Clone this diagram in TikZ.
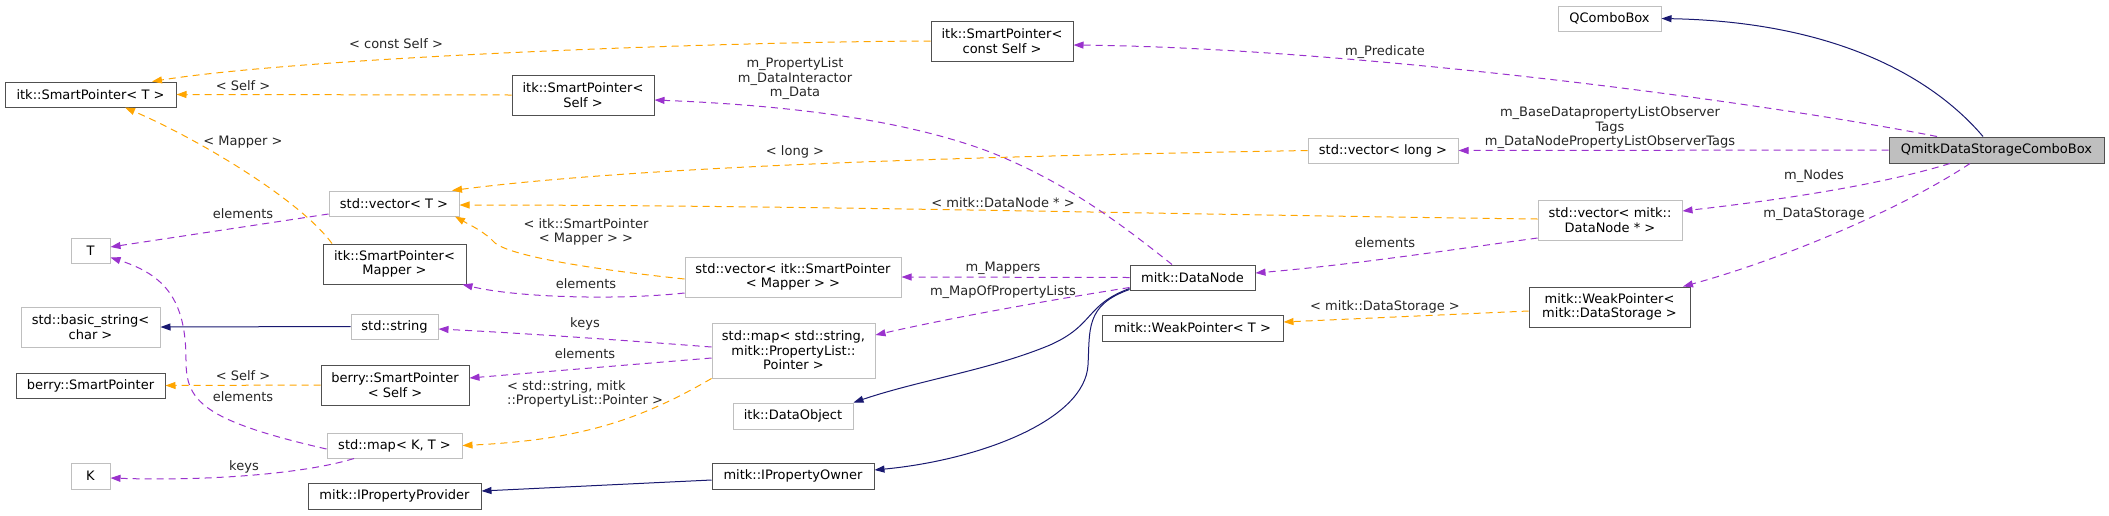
\documentclass[tikz,border=0pt]{standalone}
\usepackage{fontspec}
\setmainfont{DejaVu Sans}
\usetikzlibrary{arrows.meta}
\definecolor{navyc}{HTML}{191970}
\definecolor{purp}{HTML}{9A32CD}
\definecolor{oran}{HTML}{FFA500}
\definecolor{gline}{HTML}{BFBFBF}
\definecolor{bline}{HTML}{505050}
\begin{document}
\begin{tikzpicture}[x=1pt,y=-1pt,
  every node/.style={font=\fontsize{13}{14.5}\selectfont},
  box/.style={rectangle, inner sep=0pt, align=center, line width=1pt},
  gbox/.style={box, draw=gline},
  bbox/.style={box, draw=bline},
  lbl/.style={inner sep=0pt, align=center, text=black!85},
  tipa/.style={-{Triangle[length=10pt,width=7pt]}},
  inh/.style={tipa, color=navyc, line width=1pt},
  mem/.style={tipa, color=purp, line width=1pt, dash pattern=on 7pt off 5pt},
  tpl/.style={tipa, color=oran, line width=1pt, dash pattern=on 7pt off 5pt}]
\useasboundingbox (0,0) rectangle (2109,515);

% nodes
\node[gbox, minimum width=103, minimum height=25] (qcb) at (1609.5,18.5) {QComboBox};
\node[bbox, minimum width=142, minimum height=40] (spcs) at (1002,41) {itk::SmartPointer<\\const Self >};
\node[bbox, minimum width=171, minimum height=25] (spt) at (90.5,94.5) {itk::SmartPointer< T >};
\node[bbox, minimum width=142, minimum height=40] (spself) at (583,95) {itk::SmartPointer<\\Self >};
\node[gbox, minimum width=150, minimum height=25] (veclong) at (1383,150.5) {std::vector< long >};
\node[box, draw=bline, fill=gline, minimum width=215, minimum height=26] (qmitk) at (1996.5,150) {QmitkDataStorageComboBox};
\node[gbox, minimum width=130, minimum height=25] (vect) at (394,203.5) {std::vector< T >};
\node[gbox, minimum width=144, minimum height=40] (vecdn) at (1610,220) {std::vector< mitk::\\DataNode * >};
\node[gbox, minimum width=39, minimum height=25] (tt) at (90.5,250.5) {T};
\node[bbox, minimum width=143, minimum height=40] (spmap) at (394.5,264) {itk::SmartPointer<\\Mapper >};
\node[gbox, minimum width=216, minimum height=40] (vecspm) at (793,277) {std::vector< itk::SmartPointer\\< Mapper > >};
\node[bbox, minimum width=125, minimum height=25] (dnode) at (1192.5,277.5) {mitk::DataNode};
\node[gbox, minimum width=139, minimum height=40] (bstr) at (90.5,327) {std::basic\_string<\\char >};
\node[gbox, minimum width=87, minimum height=25] (sstr) at (394.5,326.5) {std::string};
\node[gbox, minimum width=163, minimum height=55] (mapstr) at (793.5,350.5) {std::map< std::string,\\mitk::PropertyList::\\Pointer >};
\node[bbox, minimum width=181, minimum height=26] (wpt) at (1192.5,328) {mitk::WeakPointer< T >};
\node[bbox, minimum width=161, minimum height=40] (wpds) at (1609.5,307) {mitk::WeakPointer<\\mitk::DataStorage >};
\node[bbox, minimum width=149, minimum height=25] (bsp) at (90.5,385.5) {berry::SmartPointer};
\node[bbox, minimum width=148, minimum height=40] (bsps) at (395,385) {berry::SmartPointer\\< Self >};
\node[gbox, minimum width=120, minimum height=26] (dobj) at (793,416) {itk::DataObject};
\node[gbox, minimum width=135, minimum height=25] (mapkt) at (394.5,445.5) {std::map< K, T >};
\node[gbox, minimum width=39, minimum height=26] (kk) at (90.5,476) {K};
\node[bbox, minimum width=162, minimum height=26] (ipo) at (793,476) {mitk::IPropertyOwner};
\node[bbox, minimum width=173, minimum height=26] (ipp) at (394.5,496) {mitk::IPropertyProvider};

% edges
\draw[inh] ([xshift=-13.5]qmitk.north) .. controls (1935,80) and (1840,22) .. (qcb.east);
\draw[mem] ([xshift=-59.5]qmitk.north) .. controls (1750,100) and (1350,48) .. ([yshift=-4]spcs.east);
\draw[tpl] (spcs.west) .. controls (700,42) and (300,58) .. ([xshift=61.5]spt.north);
\draw[tpl] (spself.west) -- (spt.east);
\draw[tpl] ([xshift=-62.5]spmap.north) .. controls (300,200) and (200,140) .. ([xshift=34.5]spt.south);
\draw[mem] ([yshift=-10.5]vect.west) -- ([yshift=3.5]tt.east);
\draw[mem] ([yshift=-3.5]mapkt.west) .. controls (200,420) and (186,400) .. (186,360) .. controls (186,300) and (165,275) .. ([yshift=-7]tt.east);
\draw[mem] ([xshift=-40.5]mapkt.south) .. controls (300,475) and (200,481) .. ([yshift=-2]kk.east);
\draw[inh] (sstr.west) -- (bstr.east);
\draw[tpl] (bsps.west) -- (bsp.east);
\draw[inh] ([yshift=-4]ipo.west) -- ([yshift=5]ipp.east);
\draw[tpl] ([yshift=-2]vecspm.west) .. controls (580,268) and (510,255) .. (495,243) .. controls (485,232) and (470,225) .. ([xshift=61]vect.south);
\draw[mem] ([yshift=-16]vecspm.west) .. controls (620,300) and (520,298) .. ([xshift=68]spmap.south);
\draw[tpl] (veclong.west) .. controls (1000,156) and (650,165) .. ([xshift=58]vect.north);
\draw[tpl] ([yshift=1]vecdn.west) .. controls (1200,215) and (800,205) .. ([yshift=-1.5]vect.east);
\draw[mem] ([xshift=-20.5]dnode.north) .. controls (1110,215) and (1060,180) .. (990,152) .. controls (900,118) and (780,105) .. ([yshift=-5]spself.east);
\draw[mem] (qmitk.west) -- (veclong.east);
\draw[mem] ([xshift=-46.5]qmitk.south) .. controls (1880,185) and (1780,200) .. ([yshift=9]vecdn.east);
\draw[mem] ([xshift=-26.5]qmitk.south) .. controls (1900,210) and (1780,260) .. ([xshift=73.5]wpds.north);
\draw[tpl] ([yshift=-4]wpds.west) -- ([yshift=6]wpt.east);
\draw[mem] ([yshift=-18]vecdn.west) .. controls (1450,250) and (1350,265) .. ([yshift=4.5]dnode.east);
\draw[mem] (dnode.west) -- (vecspm.east);
\draw[mem] ([yshift=-10]dnode.west) .. controls (1050,300) and (950,318) .. ([yshift=15.5]mapstr.east);
\draw[inh] ([yshift=-11]dnode.west) .. controls (1085,305) and (1095,325) .. (1050,345) .. controls (990,370) and (920,380) .. (dobj.north east);
\draw[inh] ([yshift=-12]dnode.west) .. controls (1085,305) and (1090,330) .. (1088,365) .. controls (1085,420) and (980,460) .. ([yshift=6]ipo.east);
\draw[mem] ([yshift=3.5]mapstr.west) .. controls (620,340) and (520,333) .. ([yshift=-2.5]sstr.east);
\draw[mem] ([yshift=-7.5]mapstr.west) -- ([yshift=7]bsps.east);
\draw[tpl] (mapstr.south west) .. controls (640,420) and (580,440) .. (mapkt.east);

% labels
\node[lbl] (l1) at (1385,52) {m\_Predicate};
\node[lbl] (l2) at (396,44) {< const Self >};
\node[lbl] (l3) at (243,86) {< Self >};
\node[lbl] (l4) at (243,142) {< Mapper >};
\node[lbl] (l5) at (243,214) {elements};
\node[lbl] (l6) at (243,397) {elements};
\node[lbl] (l7) at (244,467) {keys};
\node[lbl] (l8) at (243,376) {< Self >};
\node[lbl] (l9) at (586,232) {< itk::SmartPointer\\< Mapper > >};
\node[lbl] (l10) at (586,284) {elements};
\node[lbl] (l11) at (795,152) {< long >};
\node[lbl] (l12) at (1003,203) {< mitk::DataNode * >};
\node[lbl] (l13) at (795,79) {m\_PropertyList\\m\_DataInteractor\\m\_Data};
\node[lbl] (l14) at (1610,128) {m\_BaseDatapropertyListObserver\\Tags\\m\_DataNodePropertyListObserverTags};
\node[lbl] (l15) at (1814,176) {m\_Nodes};
\node[lbl] (l16) at (1814,214) {m\_DataStorage};
\node[lbl] (l17) at (1385,307) {< mitk::DataStorage >};
\node[lbl] (l18) at (1385,243) {elements};
\node[lbl] (l19) at (1003,268) {m\_Mappers};
\node[lbl] (l20) at (1003,292) {m\_MapOfPropertyLists};
\node[lbl] (l21) at (585,324) {keys};
\node[lbl] (l22) at (585,354) {elements};
\node[lbl, align=left, anchor=west] (l23) at (507,394) {< std::string, mitk\\::PropertyList::Pointer >};
\end{tikzpicture}
\end{document}
